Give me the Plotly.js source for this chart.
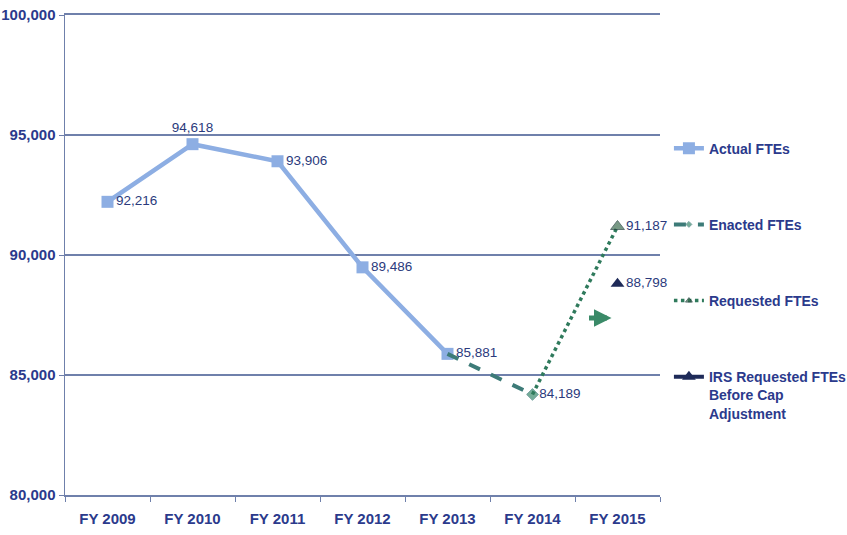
<!DOCTYPE html>
<html><head><meta charset="utf-8">
<script src="https://cdn.plot.ly/plotly-3.0.1.min.js"></script>
<style>html,body{margin:0;padding:0;background:#fff;}#chart{width:847px;height:535px;}</style>
</head><body><div id="chart"></div>
<script>
const years = ["FY 2009","FY 2010","FY 2011","FY 2012","FY 2013","FY 2014","FY 2015"];
const actualX = ["FY 2009","FY 2010","FY 2011","FY 2012","FY 2013"];
const actualY = [92216, 94618, 93906, 89486, 85881];
const enactedX = ["FY 2013","FY 2014"];
const enactedY = [85881, 84189];
const requestedX = ["FY 2014","FY 2015"];
const requestedY = [84189, 91187];
const irsX = ["FY 2015"];
const irsY = [88798];
const arrowX = "FY 2015";
const arrowY = 87380;
const yTicks = [80000, 85000, 90000, 95000, 100000];

const fmt = v => v.toLocaleString("en-US");
const fontFam = "Liberation Sans Narrow, Liberation Sans, Arial, sans-serif";
const labelFont = {family: fontFam, size: 13.5, color: "#2b3a7c"};
const boldFont = {family: fontFam, size: 14, color: "#2b3a8c", weight: "bold"};
const tickFont = {family: fontFam, size: 15, color: "#2b3a8c", weight: "bold"};

const traces = [
  {name:"Actual FTEs", x:actualX, y:actualY, type:"scatter", mode:"lines+markers+text",
   line:{color:"#8daee3", width:4.5}, marker:{symbol:"square", size:12, color:"#8daee3"},
   text: actualY.map(fmt), textposition:["middle right","top center","middle right","middle right","middle right"],
   textfont: labelFont, legendgroup:"a", cliponaxis:false},
  {name:"Enacted FTEs", x:enactedX, y:enactedY, type:"scatter", mode:"lines+markers+text",
   line:{color:"#3d7b78", width:4, dash:"dash"}, marker:{symbol:"diamond", size:[0,9], color:"#3a8a6c"},
   text:["", fmt(enactedY[1])], textposition:"middle right", textfont: labelFont, legendgroup:"b", cliponaxis:false},
  {name:"Requested FTEs", x:requestedX, y:requestedY, type:"scatter", mode:"lines+markers+text",
   line:{color:"#2f7a5c", width:3.5, dash:"dot"}, marker:{symbol:"triangle-up", size:[0,12], color:"#3f6f52", line:{color:"#1d3a38", width:1}},
   text:["", fmt(requestedY[1])], textposition:"middle right", textfont: labelFont, legendgroup:"c", cliponaxis:false},
  {name:"IRS Requested FTEs<br>Before Cap<br>Adjustment", x:irsX, y:irsY, type:"scatter", mode:"lines+markers+text",
   line:{color:"#1e2a58", width:4}, marker:{symbol:"triangle-up", size:12, color:"#1e2a58"},
   text: irsY.map(fmt), textposition:"middle right", textfont: labelFont, legendgroup:"d", cliponaxis:false}
];

const layout = {
  width:847, height:535,
  margin:{l:65, r:187, t:15, b:40, autoexpand:false},
  paper_bgcolor:"#ffffff", plot_bgcolor:"#ffffff",
  showlegend:true,
  legend:{x:1.015, y:0.755, xanchor:"left", yanchor:"top", tracegroupgap:55, valign:"top",
    font:boldFont, bgcolor:"rgba(0,0,0,0)"},
  xaxis:{type:"category", categoryorder:"array", categoryarray:years, range:[-0.5,6.5],
    showgrid:false, showline:true, mirror:true, linecolor:"#6f80ab", linewidth:2,
    ticks:"outside", tickson:"boundaries", ticklen:5, tickcolor:"#6f80ab", ticklabelstandoff:9,
    tickfont:tickFont, zeroline:false, fixedrange:true},
  yaxis:{range:[80000,100000], tickvals:yTicks, ticktext:yTicks.map(fmt),
    showgrid:true, gridcolor:"#6f80ab", gridwidth:1.5, showline:true, linecolor:"#6f80ab", linewidth:1.5,
    ticks:"outside", ticklen:5, tickcolor:"#6f80ab", zeroline:false,
    tickfont:tickFont, fixedrange:true},
  annotations:[{x:arrowX, y:arrowY, xref:"x", yref:"y", text:"", showarrow:true,
    axref:"pixel", ayref:"pixel", ax:-24, ay:0, xshift:-6,
    arrowhead:2, arrowsize:0.7, arrowwidth:5, arrowcolor:"#3a8a68"}]
};

Plotly.newPlot("chart", traces, layout, {displayModeBar:false, staticPlot:true});
</script>
</body></html>
